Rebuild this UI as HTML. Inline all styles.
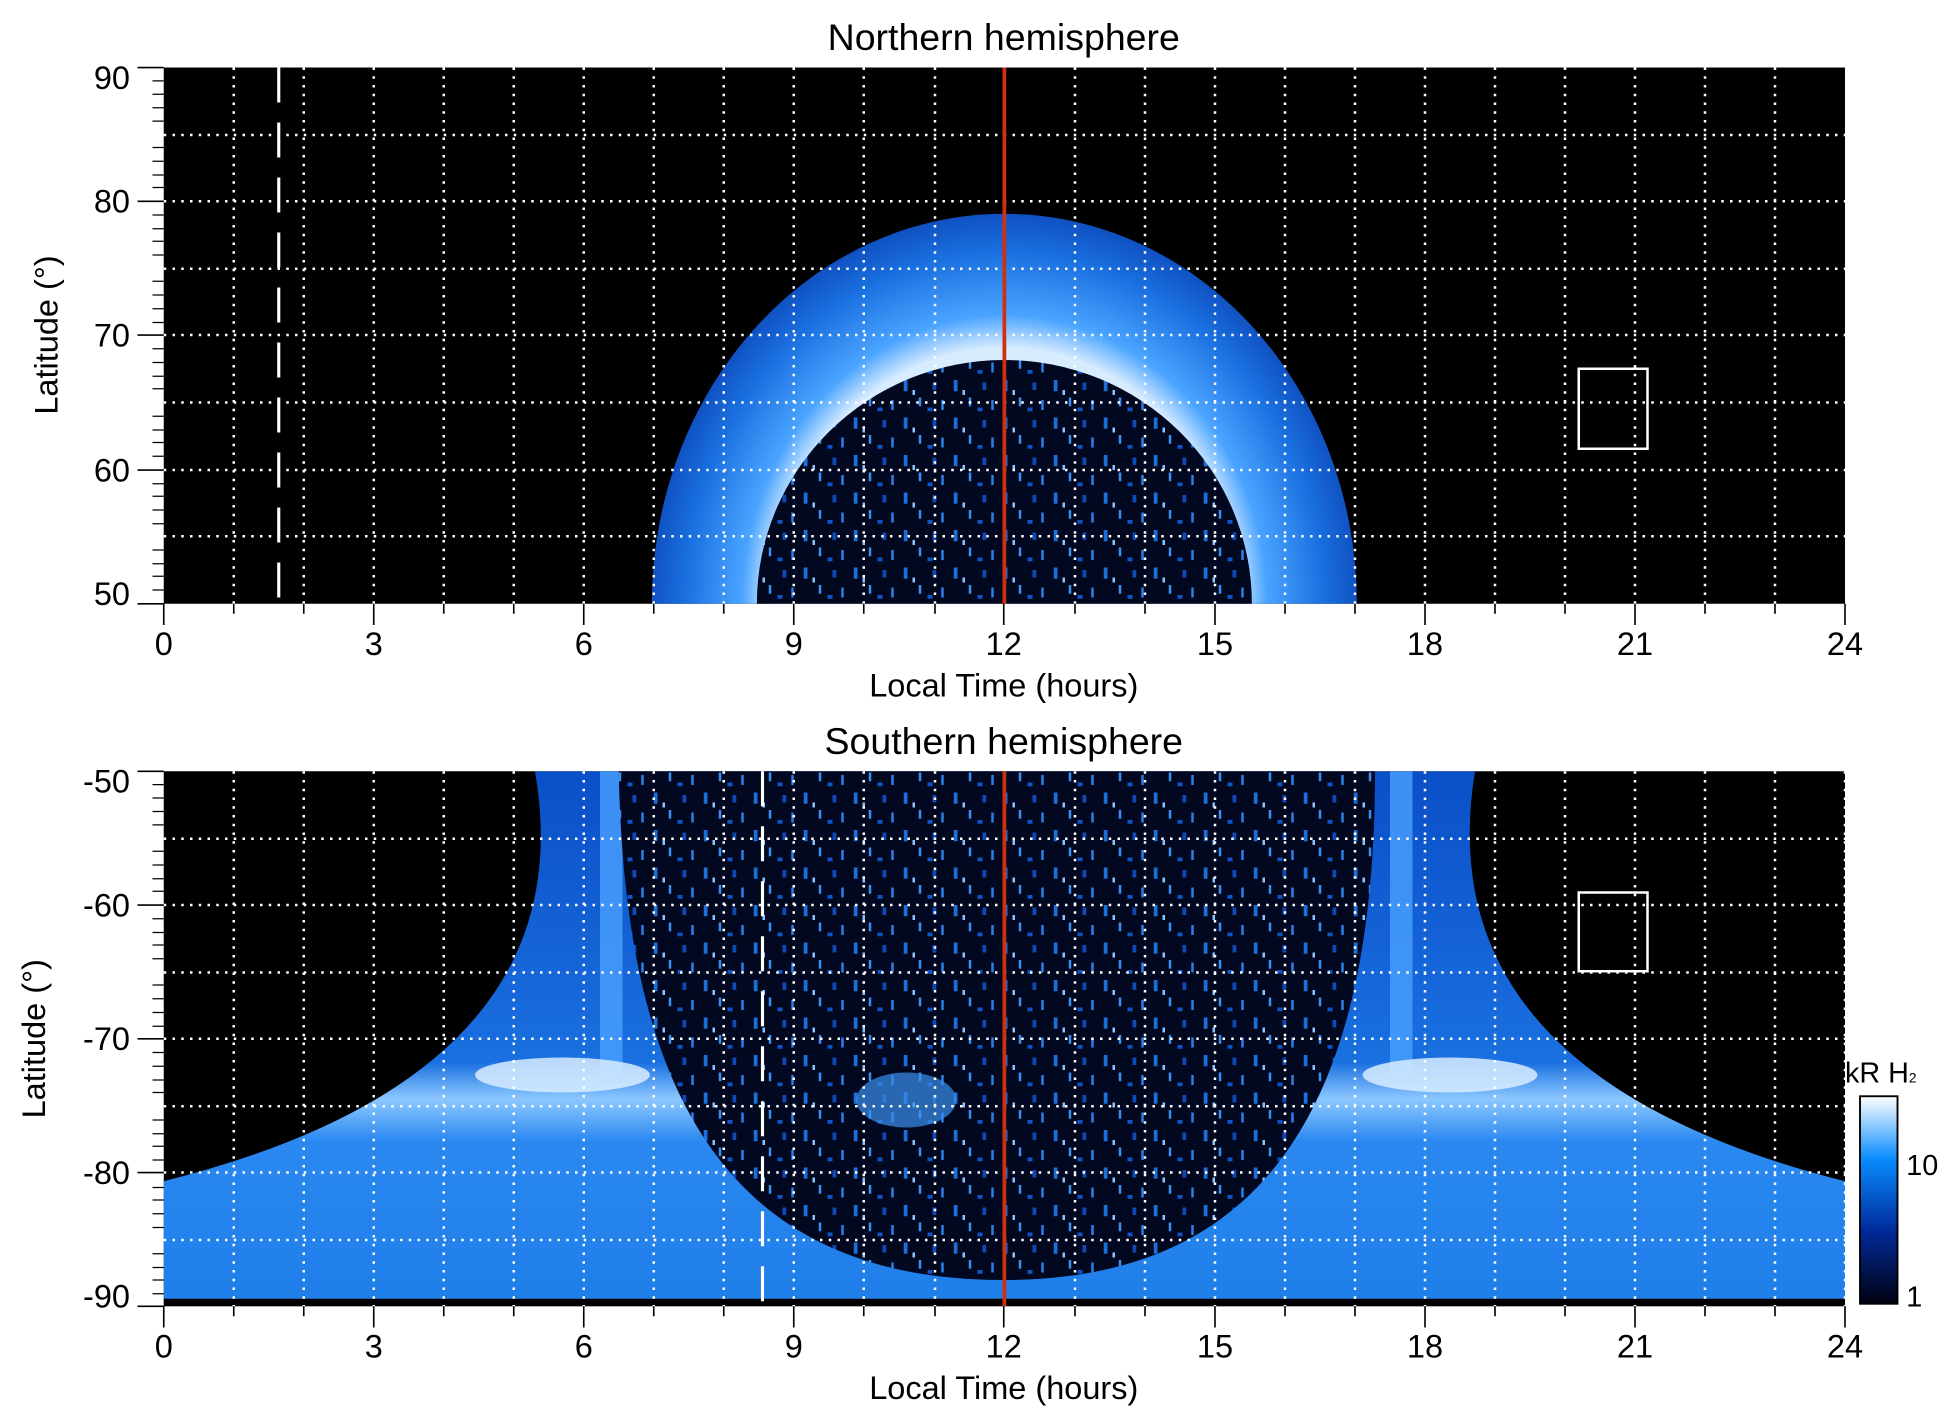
<!DOCTYPE html>
<html><head><meta charset="utf-8"><style>html,body{margin:0;padding:0;background:#fff}svg{display:block}</style></head>
<body>
<svg width="1950" height="1423" viewBox="0 0 1560 1138.4" xmlns="http://www.w3.org/2000/svg" font-family="Liberation Sans, sans-serif">
<defs>
<clipPath id="cn"><rect x="131" y="54" width="1345" height="429"/></clipPath>
<clipPath id="cs"><rect x="131" y="617" width="1345" height="428"/></clipPath>
<radialGradient id="gn" cx="803.5" cy="483" r="300" gradientUnits="userSpaceOnUse" gradientTransform="translate(803.5 483) scale(1 1.1) translate(-803.5 -483)">
<stop offset="0.62" stop-color="#d8ecff"/><stop offset="0.7" stop-color="#4aa4ff"/><stop offset="0.85" stop-color="#1a70e0"/><stop offset="1" stop-color="#0a3fb0"/></radialGradient>
<linearGradient id="gs" x1="0" y1="617" x2="0" y2="1040" gradientUnits="userSpaceOnUse">
<stop offset="0" stop-color="#0b4fc8"/><stop offset="0.55" stop-color="#1a70e0"/><stop offset="0.62" stop-color="#8cc8ff"/><stop offset="0.7" stop-color="#2a88f0"/><stop offset="1" stop-color="#1f7ee8"/></linearGradient>
<linearGradient id="cb" x1="0" y1="0" x2="0" y2="1">
<stop offset="0" stop-color="#ffffff"/><stop offset="0.3" stop-color="#0a8cff"/><stop offset="0.65" stop-color="#002a9a"/><stop offset="1" stop-color="#000010"/></linearGradient>
<pattern id="sp" width="40" height="30" patternUnits="userSpaceOnUse">
<rect width="40" height="30" fill="#020820"/>
<rect x="3" y="4" width="3" height="9" fill="#1a6fd8"/><rect x="15" y="18" width="2" height="7" fill="#3a90f0"/>
<rect x="26" y="6" width="3" height="6" fill="#0d4ab8"/><rect x="33" y="20" width="2" height="8" fill="#2a7fe8"/>
<rect x="10" y="12" width="2" height="4" fill="#8ac4ff"/><rect x="22" y="26" width="4" height="3" fill="#0f55c8"/>
</pattern>
</defs>
<rect x="131" y="54" width="1345" height="429" fill="#000"/>
<g clip-path="url(#cn)">
<ellipse cx="803.5" cy="483" rx="282" ry="312" fill="url(#gn)"/>
<ellipse cx="803.5" cy="483" rx="198" ry="195" fill="url(#sp)"/>
</g>
<rect x="131" y="617" width="1345" height="428" fill="#000"/>
<g clip-path="url(#cs)">
<path d="M428 617 Q470 860 131 945 L131 1040 L1476 1040 L1476 945 Q1140 860 1180 617 Z" fill="url(#gs)"/>
<rect x="480" y="617" width="18" height="250" fill="#4aa0ff" opacity="0.8"/>
<rect x="1112" y="617" width="18" height="250" fill="#4aa0ff" opacity="0.8"/>
<ellipse cx="450" cy="860" rx="70" ry="14" fill="#d8ecff" opacity="0.85"/>
<ellipse cx="1160" cy="860" rx="70" ry="14" fill="#d8ecff" opacity="0.85"/>
<path d="M495 617 C500 900 600 1024 803 1024 C1000 1024 1100 900 1100 617 Z" fill="url(#sp)"/>
<ellipse cx="725" cy="880" rx="40" ry="22" fill="#3a90f0" opacity="0.7"/>
<rect x="131" y="1039" width="1345" height="6" fill="#000"/>
</g>
<g stroke="#fff" stroke-width="2" stroke-dasharray="2 5">
<path d="M187 54V483M243 54V483M299 54V483M355 54V483M411 54V483M467 54V483M523 54V483M579 54V483M635 54V483M691 54V483M748 54V483M860 54V483M916 54V483M972 54V483M1028 54V483M1084 54V483M1140 54V483M1196 54V483M1252 54V483M1308 54V483M1364 54V483M1420 54V483"/>
<path d="M131 108H1476M131 161H1476M131 215H1476M131 268H1476M131 322H1476M131 376H1476M131 429H1476"/>
<path d="M187 617V1045M243 617V1045M299 617V1045M355 617V1045M411 617V1045M467 617V1045M523 617V1045M579 617V1045M635 617V1045M691 617V1045M748 617V1045M860 617V1045M916 617V1045M972 617V1045M1028 617V1045M1084 617V1045M1140 617V1045M1196 617V1045M1252 617V1045M1308 617V1045M1364 617V1045M1420 617V1045M1476 617V1045"/>
<path d="M131 671H1476M131 724H1476M131 778H1476M131 831H1476M131 885H1476M131 938H1476M131 992H1476"/>
</g>
<path d="M223 54V483" stroke="#fff" stroke-width="2.5" stroke-dasharray="28 16"/>
<path d="M610 617V1045" stroke="#fff" stroke-width="2.5" stroke-dasharray="28 16"/>
<path d="M803.5 54V483M803.5 617V1045" stroke="#d03010" stroke-width="3"/>
<rect x="1263" y="295" width="55" height="64" fill="none" stroke="#fff" stroke-width="2"/>
<rect x="1263" y="714" width="55" height="63" fill="none" stroke="#fff" stroke-width="2"/>
<g stroke="#000" stroke-width="1.3">
<path d="M110 54H131M110 161H131M110 268H131M110 376H131M110 483H131"/>
<path d="M110 617H131M110 724H131M110 831H131M110 938H131M110 1045H131"/>
<path d="M131 483V500M299 483V500M467 483V500M635 483V500M803 483V500M972 483V500M1140 483V500M1308 483V500M1476 483V500"/>
<path d="M131 1045V1062M299 1045V1062M467 1045V1062M635 1045V1062M803 1045V1062M972 1045V1062M1140 1045V1062M1308 1045V1062M1476 1045V1062"/>
<path d="M187 483V491M243 483V491M355 483V491M411 483V491M523 483V491M579 483V491M691 483V491M748 483V491M860 483V491M916 483V491M1028 483V491M1084 483V491M1196 483V491M1252 483V491M1364 483V491M1420 483V491"/>
<path d="M187 1045V1053M243 1045V1053M355 1045V1053M411 1045V1053M523 1045V1053M579 1045V1053M691 1045V1053M748 1045V1053M860 1045V1053M916 1045V1053M1028 1045V1053M1084 1045V1053M1196 1045V1053M1252 1045V1053M1364 1045V1053M1420 1045V1053"/>
</g>
<g stroke="#000" stroke-width="1" id="mt">
<path d="M122 64.7H131M122 75.4H131M122 86.2H131M122 96.9H131M122 118H131M122 129H131M122 140H131M122 150H131M122 172H131M122 183H131M122 193H131M122 204H131M122 225H131M122 236H131M122 247H131M122 258H131M122 279H131M122 290H131M122 301H131M122 311H131M122 333H131M122 344H131M122 354H131M122 365H131M122 387H131M122 397H131M122 408H131M122 419H131M122 440H131M122 451H131M122 461H131M122 472H131"/>
</g>
<use href="#mt" transform="translate(0 563)"/>
<g font-size="26" fill="#000" text-anchor="end">
<text x="104" y="71">90</text><text x="104" y="170">80</text><text x="104" y="277">70</text><text x="104" y="385">60</text><text x="104" y="484">50</text>
<text x="104" y="634">-50</text><text x="104" y="733">-60</text><text x="104" y="840">-70</text><text x="104" y="947">-80</text><text x="104" y="1046">-90</text>
</g>
<g font-size="26" fill="#000" text-anchor="middle">
<text x="131" y="524">0</text><text x="299" y="524">3</text><text x="467" y="524">6</text><text x="635" y="524">9</text><text x="803" y="524">12</text><text x="972" y="524">15</text><text x="1140" y="524">18</text><text x="1308" y="524">21</text><text x="1476" y="524">24</text>
<text x="131" y="1086">0</text><text x="299" y="1086">3</text><text x="467" y="1086">6</text><text x="635" y="1086">9</text><text x="803" y="1086">12</text><text x="972" y="1086">15</text><text x="1140" y="1086">18</text><text x="1308" y="1086">21</text><text x="1476" y="1086">24</text>
<text x="803" y="557">Local Time (hours)</text><text x="803" y="1119">Local Time (hours)</text>
<text x="803" y="40" font-size="30">Northern hemisphere</text><text x="803" y="603" font-size="30">Southern hemisphere</text>
<text transform="translate(46 268) rotate(-90)">Latitude (°)</text>
<text transform="translate(36 831) rotate(-90)">Latitude (°)</text>
</g>
<rect x="1488" y="877" width="30" height="166" fill="url(#cb)" stroke="#000" stroke-width="1.5"/>
<g font-size="23" fill="#000">
<text x="1525" y="940">10</text><text x="1525" y="1045">1</text>
<text x="1476" y="866">kR H<tspan font-size="11">2</tspan></text>
</g>
</svg>
</body></html>
